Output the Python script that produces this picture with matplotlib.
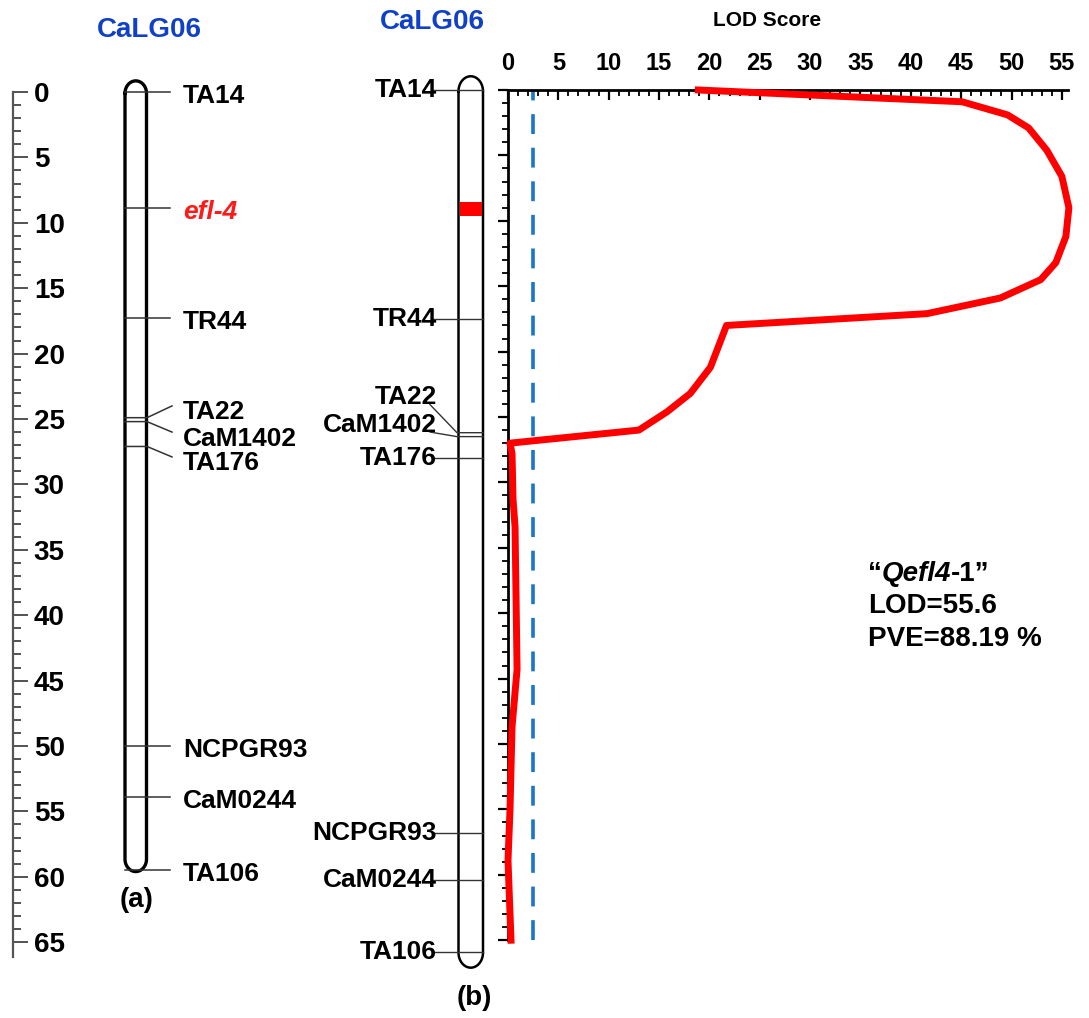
import numpy as np
import matplotlib
matplotlib.use("Agg")
import matplotlib.pyplot as plt
from matplotlib.offsetbox import TextArea, HPacker, AnchoredOffsetbox

plt.rcParams['font.family'] = ['Liberation Sans', 'DejaVu Sans']
plt.rcParams['font.weight'] = 'bold'

# (a) linkage map of CaLG06 (cM)
markers_a = ['TA14', 'efl-4', 'TR44', 'TA22', 'CaM1402', 'TA176', 'NCPGR93', 'CaM0244', 'TA106']
pos_a = [0.0, 8.9, 17.3, 24.9, 25.2, 27.1, 50.0, 53.9, 59.5]

# (b) QTL map (cM)
markers_b = ['TA14', 'TR44', 'TA22', 'CaM1402', 'TA176', 'NCPGR93', 'CaM0244', 'TA106']
pos_b = [0.0, 17.5, 26.2, 26.5, 28.1, 56.8, 60.4, 65.9]
qtl_interval = [8.6, 9.6]

# LOD profile along the linkage group
lod_pos = [0.0, 0.9, 1.9, 2.9, 4.6, 6.6, 9.0, 11.2, 13.2, 14.5, 15.9, 17.1, 18.0, 18.6,
           21.2, 23.2, 24.6, 26.0, 27.0, 27.8, 31.3, 33.4, 44.3, 48.7, 55.0, 58.9, 65.0]
lod_val = [18.9, 45.1, 49.6, 51.7, 53.5, 55.0, 55.7, 55.4, 54.4, 52.9, 48.9, 41.6, 21.7, 21.4,
           20.1, 18.1, 15.8, 13.0, 0.2, 0.4, 0.5, 0.7, 0.9, 0.4, 0.2, 0.0, 0.3]
lod_threshold = 2.5

qtl_name = 'Qefl4'
qtl_lod = 55.6
qtl_pve = 88.19

# label positions for crowded markers (layout only)
label_a = {'TA22': 24.2, 'CaM1402': 26.2, 'TA176': 28.1}
label_b = {'TA22': 23.5, 'CaM1402': 25.6}

W, H = 1089, 1018
S = 13.08  # pixels per cM
BLUE = '#1040c8'

fig = plt.figure(figsize=(W / 100, H / 100), dpi=100)


def px_axes(x0, y0, x1, y1):
    return fig.add_axes([x0 / W, 1 - y1 / H, (x1 - x0) / W, (y1 - y0) / H])


def capsule(ax, xl, xr, ytop, ybot, cap, **kw):
    # chromosome outline with rounded ends
    t = np.linspace(0, np.pi, 40)
    xc, rx = (xl + xr) / 2, (xr - xl) / 2
    xs = np.concatenate([xc - rx * np.cos(t), xc + rx * np.cos(t), [xl]])
    ys = np.concatenate([ytop + cap - cap * np.sin(t), ybot - cap + cap * np.sin(t), [ytop + cap]])
    ax.plot(xs, ys, clip_on=False, solid_joinstyle='round', **kw)


# ---- ruler
ax_r = px_axes(0, 92, 13, 92 + 66.1 * S)
ax_r.set_ylim(66.1, 0)
for s in ['left', 'top', 'bottom']:
    ax_r.spines[s].set_visible(False)
ax_r.spines['right'].set_color('#555555')
ax_r.spines['right'].set_linewidth(1.6)
ax_r.set_xticks([])
ax_r.yaxis.tick_right()
ax_r.set_yticks(range(0, 66, 5))
ax_r.set_yticks(range(0, 66), minor=True)
ax_r.tick_params(axis='y', which='major', direction='out', length=11, width=1.3,
                 colors='#444444', labelcolor='black', labelsize=20, pad=4)
ax_r.tick_params(axis='y', which='minor', direction='out', length=5.5, width=1.3, colors='#444444')

# ---- panel (a)
ax_a = px_axes(13, 92, 430, 92 + 66 * S)
ax_a.set_xlim(13, 430)
ax_a.set_ylim(66, 0)
ax_a.axis('off')
capsule(ax_a, 125, 146.5, pos_a[0] - 0.85, pos_a[-1] + 0.1, 0.95, color='black', lw=2.4)
for name, p in zip(markers_a, pos_a):
    ly = label_a.get(name, p)
    if name in label_a:
        ax_a.plot([125, 147, 172], [p, p, ly - 0.2], color='#333333', lw=1.1, clip_on=False)
    else:
        ax_a.plot([125, 170], [p, p], color='#333333', lw=1.1, clip_on=False)
    red = name == 'efl-4'
    ax_a.text(183, ly + 0.3, name, ha='left', va='center', fontsize=19,
              color='#ff1a1a' if red else 'black', style='italic' if red else 'normal')

# ---- panel (b) chromosome
ax_bl = px_axes(300, 90, 508, 90 + 65 * S)
ax_bl.set_xlim(300, 508)
ax_bl.set_ylim(65, 0)
ax_bl.axis('off')
capsule(ax_bl, 458.5, 483, pos_b[0] - 1.05, pos_b[-1] + 1.2, 1.15, color='black', lw=1.8)
ax_bl.fill_betweenx(qtl_interval, 459.5, 482, color='red', lw=0, zorder=3)
for name, p in zip(markers_b, pos_b):
    ly = label_b.get(name, p)
    if name in label_b:
        ax_bl.plot([483, 457, 430], [p, p, ly + 0.55], color='#333333', lw=1.0, clip_on=False)
    else:
        ax_bl.plot([483, 432], [p, p], color='#333333', lw=1.0, clip_on=False)
    ax_bl.text(437, ly, name, ha='right', va='center', fontsize=19)

# ---- LOD profile
ax_b = px_axes(508, 90, 508 + 55.6 * 10.07, 90 + 65 * S)
ax_b.set_xlim(0, 55.6)
ax_b.set_ylim(65, 0)
ax_b.spines['right'].set_visible(False)
ax_b.spines['bottom'].set_visible(False)
for s in ['top', 'left']:
    ax_b.spines[s].set_linewidth(2)
ax_b.xaxis.tick_top()
ax_b.set_xticks(range(0, 56, 5))
ax_b.set_xticks(range(0, 56), minor=True)
ax_b.set_yticks(range(0, 66, 5))
ax_b.set_yticks(range(0, 66), minor=True)
ax_b.set_yticklabels([])
ax_b.tick_params(axis='x', which='major', direction='in', length=7.5, width=1.6, labelsize=17, pad=11)
ax_b.tick_params(axis='x', which='minor', direction='in', length=4, width=1.3)
ax_b.tick_params(axis='y', which='major', direction='out', length=7.5, width=1.6)
ax_b.tick_params(axis='y', which='minor', direction='out', length=4, width=1.3)
ax_b.axvline(lod_threshold, color='#1b75c9', lw=2.6, ls=(0, (5.5, 3.8)), zorder=2)
ax_b.plot(lod_val, lod_pos, color='red', lw=5, clip_on=False, solid_joinstyle='round', zorder=5)

# ---- annotation
tp = dict(fontsize=20, fontweight='bold', color='black')
line1 = HPacker(children=[TextArea('\u201c', textprops=tp),
                          TextArea(qtl_name, textprops=dict(tp, style='italic')),
                          TextArea('-1\u201d', textprops=tp)],
                align='baseline', pad=0, sep=0)
box = AnchoredOffsetbox(loc='upper left', child=line1, pad=0, borderpad=0, frameon=False,
                        bbox_to_anchor=(868 / W, 1 - 561 / H), bbox_transform=fig.transFigure)
ax_b.add_artist(box)
fig.text(868 / W, 1 - 606 / H, f'LOD={qtl_lod}', fontsize=20, ha='left', va='center')
fig.text(868 / W, 1 - 639 / H, f'PVE={qtl_pve} %', fontsize=20, ha='left', va='center')

# ---- titles
fig.text(149 / W, 1 - 30 / H, 'CaLG06', color=BLUE, fontsize=20, ha='center', va='center')
fig.text(432 / W, 1 - 22 / H, 'CaLG06', color=BLUE, fontsize=20, ha='center', va='center')
fig.text(767 / W, 1 - 20 / H, 'LOD Score', fontsize=15, ha='center', va='center')
fig.text(137 / W, 1 - 900 / H, '(a)', fontsize=20, ha='center', va='center')
fig.text(474 / W, 1 - 998 / H, '(b)', fontsize=20, ha='center', va='center')

fig.savefig('out.png', dpi=100)
